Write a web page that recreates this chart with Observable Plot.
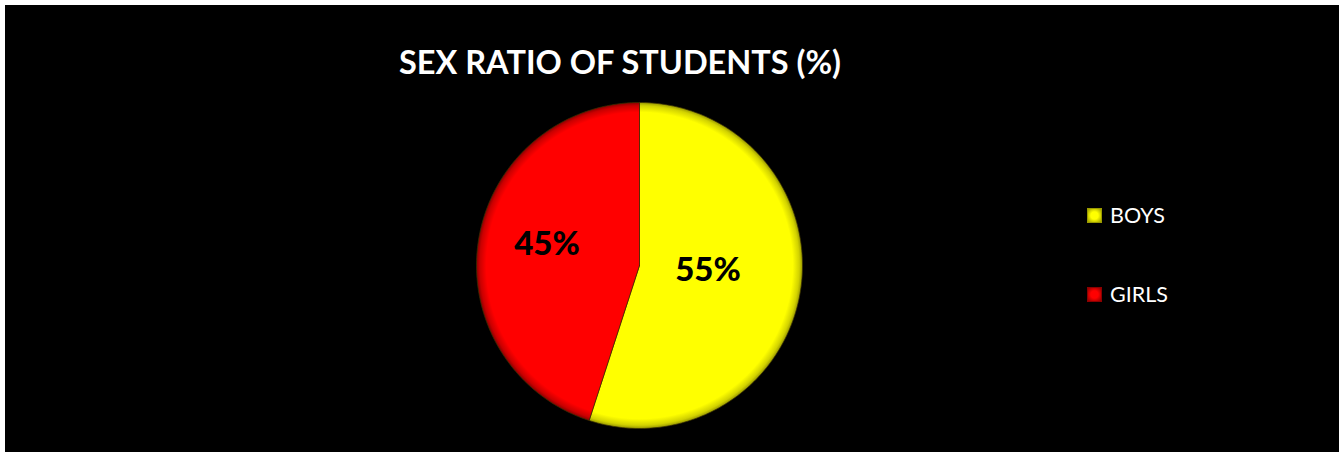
<!DOCTYPE html>
<html><head><meta charset="utf-8">
<script src="https://cdn.jsdelivr.net/npm/d3@7"></script>
<script src="https://cdn.jsdelivr.net/npm/@observablehq/plot@0.6"></script>
<style>
html,body{margin:0;padding:0;background:#fff;}
#frame{position:absolute;left:5px;top:5px;width:1334px;height:447px;background:#000;overflow:hidden;font-family:Lato,"Open Sans",sans-serif;}
#title{position:absolute;left:215px;width:800px;top:41px;text-align:center;color:#fff;font-weight:bold;font-size:32.5px;line-height:32px;white-space:nowrap;}
#chart{position:absolute;left:0;top:0;}
.leg{position:absolute;left:1082px;height:20px;color:#fff;font-size:21.5px;line-height:20px;white-space:nowrap;}
.sw{position:absolute;left:0;top:0;width:15px;height:15px;box-sizing:border-box;}
.lt{position:absolute;left:23px;top:0;}
</style>
</head><body>
<div id="frame">
  <div id="title">SEX RATIO OF STUDENTS (%)</div>
  <div id="chart"></div>
  <div id="legend"></div>
</div>
<script>
const categories = ["BOYS", "GIRLS"];
const values = [55, 45];
const labels = ["55%", "45%"];
const colors = ["#FFFF00", "#FF0000"];
const edgeColors = ["#9a9a00", "#8a0000"];

const cx = 634, cy = 260, r = 163;

const slices = d3.pie().sort(null).value(d => d.value)(
  categories.map((c, i) => ({category: c, value: values[i], label: labels[i], i}))
);

function slicePoints(s) {
  const pts = [{x: 0, y: 0}];
  const n = 180;
  for (let k = 0; k <= n; k++) {
    const a = s.startAngle + (s.endAngle - s.startAngle) * k / n;
    pts.push({x: Math.sin(a), y: -Math.cos(a)});
  }
  pts.push({x: 0, y: 0});
  return pts;
}

const labelData = slices.map(s => {
  const a = (s.startAngle + s.endAngle) / 2;
  return {x: 0.5 * Math.sin(a), y: -0.5 * Math.cos(a), label: s.data.label};
});

const plot = Plot.plot({
  width: 1334,
  height: 447,
  margin: 0,
  x: {domain: [-1, 1], range: [cx - r, cx + r], axis: null},
  y: {domain: [-1, 1], range: [cy - r, cy + r], axis: null},
  style: {background: "transparent", overflow: "visible"},
  marks: [
    ...slices.map(s => Plot.line(slicePoints(s), {
      x: "x", y: "y",
      fill: `url(#grad${s.data.i})`,
      stroke: "#3a3000",
      strokeWidth: 1,
      strokeOpacity: 0.7
    })),
    Plot.text(labelData, {
      x: "x", y: "y", text: "label",
      dx: -12, dy: -8,
      fill: "#000",
      fontSize: 33,
      fontWeight: 900,
      fontFamily: "Lato, 'Open Sans', sans-serif"
    })
  ]
});

const svg = d3.select(plot);
const defs = svg.insert("defs", ":first-child");
colors.forEach((c, i) => {
  const g = defs.append("radialGradient")
    .attr("id", `grad${i}`)
    .attr("gradientUnits", "userSpaceOnUse")
    .attr("cx", cx).attr("cy", cy).attr("r", r);
  g.append("stop").attr("offset", "0%").attr("stop-color", c);
  g.append("stop").attr("offset", "94%").attr("stop-color", c);
  g.append("stop").attr("offset", "98%").attr("stop-color", d3.interpolateRgb(c, edgeColors[i])(0.45));
  g.append("stop").attr("offset", "100%").attr("stop-color", edgeColors[i]);
});
document.getElementById("chart").appendChild(plot);

const legend = document.getElementById("legend");
const legendTops = [203, 282];
categories.forEach((c, i) => {
  const item = document.createElement("div");
  item.className = "leg";
  item.style.top = legendTops[i] + "px";
  const sw = document.createElement("div");
  sw.className = "sw";
  sw.style.background = `radial-gradient(circle, ${colors[i]} 40%, ${edgeColors[i]} 100%)`;
  sw.style.border = `1px solid ${edgeColors[i]}`;
  const t = document.createElement("div");
  t.className = "lt";
  t.style.top = "-3px";
  t.textContent = c;
  item.appendChild(sw);
  item.appendChild(t);
  legend.appendChild(item);
});
</script>
</body></html>
